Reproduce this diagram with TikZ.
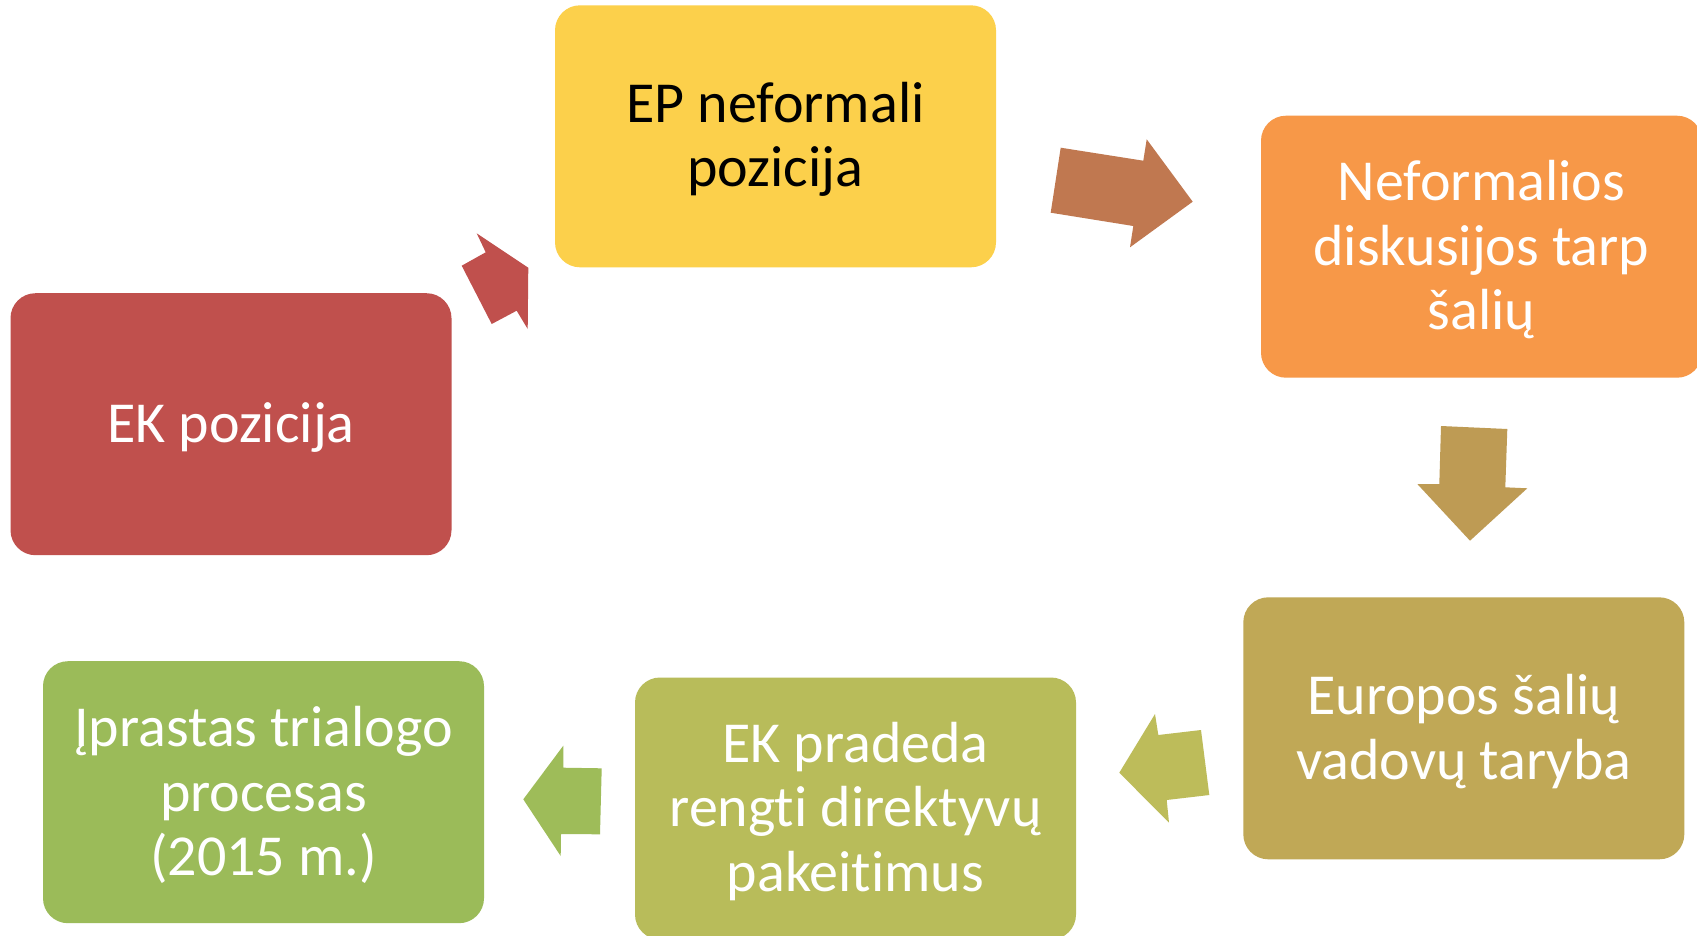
\documentclass[tikz,border=0pt]{standalone}
\usepackage{fontspec}
\setmainfont{Carlito}[Ligatures=NoCommon]
\definecolor{cYellow}{RGB}{252,208,75}
\definecolor{cOrange}{RGB}{247,152,72}
\definecolor{cTan}{RGB}{192,168,86}
\definecolor{cOlive}{RGB}{184,188,90}
\definecolor{cGreen}{RGB}{155,187,89}
\definecolor{cRed}{RGB}{192,80,77}
\definecolor{aRed}{RGB}{192,80,77}
\definecolor{aBrown}{RGB}{192,120,80}
\definecolor{aTan}{RGB}{190,155,84}
\definecolor{aOlive}{RGB}{189,188,90}
\definecolor{aGreen}{RGB}{158,188,89}
\tikzset{
  box/.style={rectangle, rounded corners=25pt, minimum width=441pt, minimum height=262pt,
    inner sep=0pt, align=center, text=white,
    font=\fontsize{58}{64.5}\selectfont},
  lbl/.style={inner sep=0pt, align=center, text=white, font=\fontsize{58}{64.5}\selectfont}
}
\begin{document}
\begin{tikzpicture}[x=1pt,y=-1pt]
\useasboundingbox (0,0) rectangle (1697,935);
\clip (0,0) rectangle (1697,935);
\fill[white] (0,0) rectangle (1697,935);

\node[box, fill=cYellow] (ep) at (775.5,136.3) {};
\node[lbl, text=black] (epT) at ([yshift=-3pt]ep.center) {EP neformali\\pozicija};
\node[box, fill=cOrange] (nef) at (1481.5,246.7) {};
\node[lbl] (nefT) at ([yshift=-3pt]nef.center) {Neformalios\\diskusijos tarp\\šalių};
\node[box, fill=cTan] (eur) at (1463.8,728.3) {};
\node[lbl] (eurT) at ([yshift=-3pt]eur.center) {Europos šalių\\vadovų taryba};
\node[box, fill=cOlive] (ekp) at (855.5,808.5) {};
\node[lbl] (ekpT) at ([yshift=-3pt]ekp.center) {EK pradeda\\rengti direktyvų\\pakeitimus};
\node[box, fill=cGreen] (ipr) at (263.5,792.2) {};
\node[lbl] (iprT) at ([yshift=-3pt]ipr.center) {Įprastas trialogo\\procesas\\(2015 m.)};
\node[box, fill=cRed] (ekpoz) at (231,424.2) {};
\node[lbl] (ekpozT) at ([yshift=-3pt]ekpoz.center) {EK pozicija};

% block arrows
\fill[aRed] (476.7,233.3) -- (485.7,252.3) -- (461.7,265.7) -- (491.7,324) -- (516.7,310.7)
  -- (527.7,329) -- (528.3,267.7) -- cycle;
\fill[aBrown] (1060.7,147.7) -- (1143.3,160.7) -- (1146.7,139.3) -- (1192.7,201.7)
  -- (1130,247.3) -- (1133.3,226) -- (1050.7,212.7) -- cycle;
\fill[aTan] (1441,426) -- (1507.3,429) -- (1505.3,487.3) -- (1527.3,488.3) -- (1470,540.7)
  -- (1417.3,484) -- (1439.3,484) -- cycle;
\fill[aOlive] (1155,714) -- (1158.3,735) -- (1201,730) -- (1209.3,795) -- (1166.7,800)
  -- (1169,822.7) -- (1119.3,772.7) -- cycle;
\fill[aGreen] (563.3,745.7) -- (563.3,767.7) -- (601.7,768.3) -- (600,834.3) -- (561,834)
  -- (560.7,856) -- (523.3,799.3) -- cycle;
\end{tikzpicture}
\end{document}
